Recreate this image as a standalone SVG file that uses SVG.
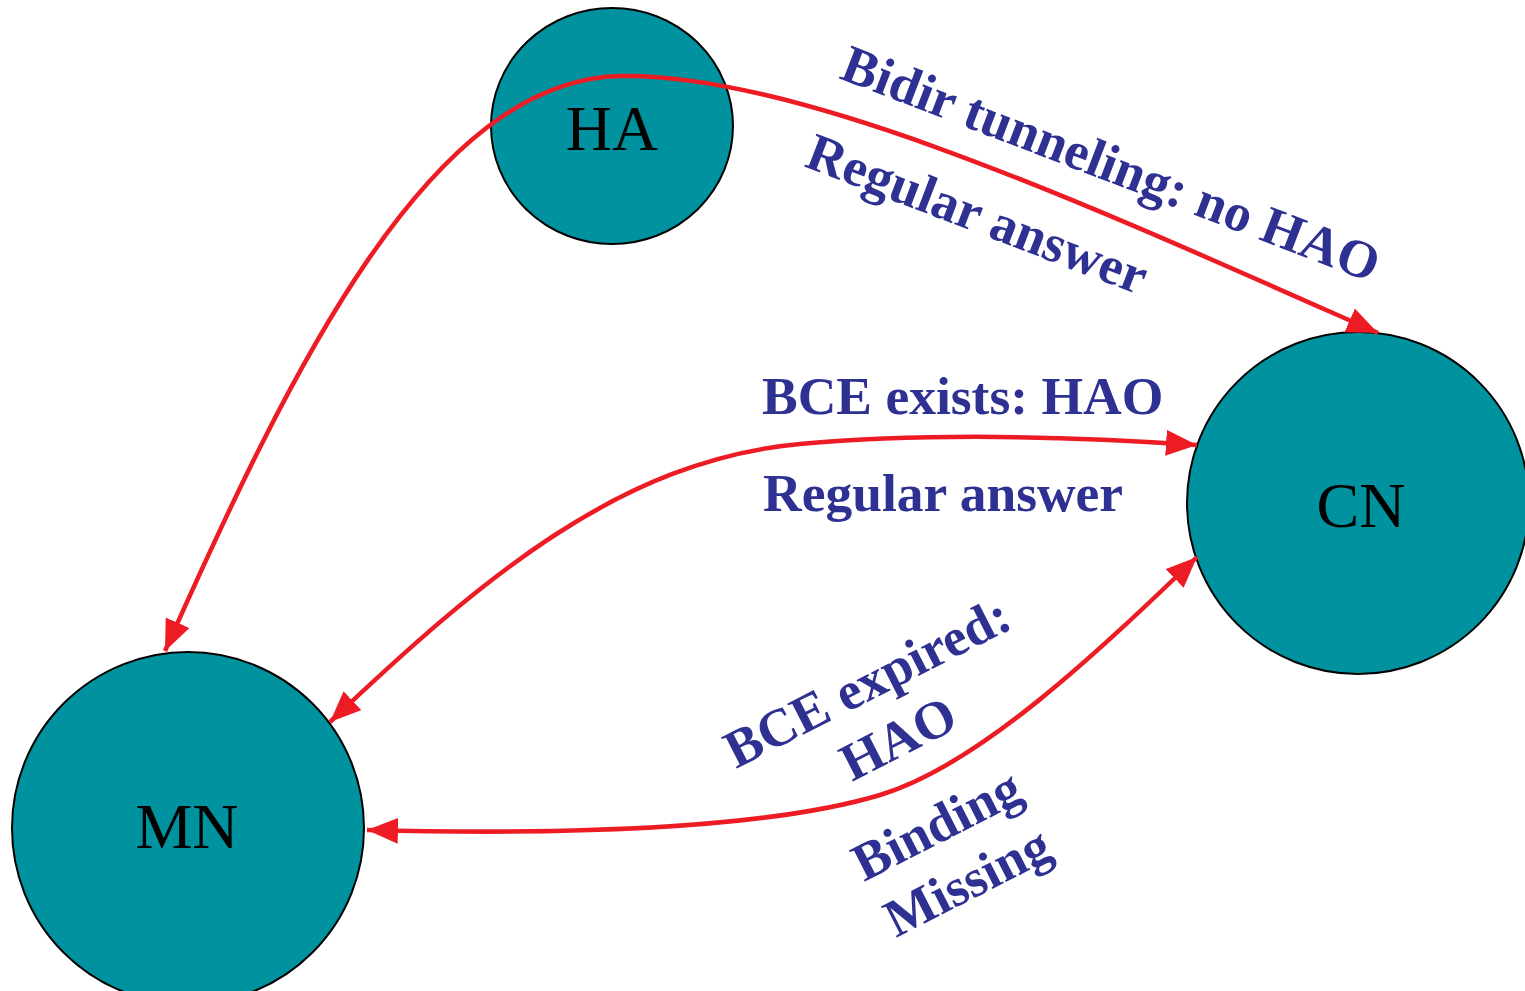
<svg xmlns="http://www.w3.org/2000/svg" width="1525" height="991" viewBox="0 0 1525 991">
<style>
.node{fill:#00929F;stroke:#000;stroke-width:2}
.nlabel{font-family:"Liberation Serif",serif;font-size:64px;fill:#000;text-anchor:middle}
.conn{fill:none;stroke:#ED1C24;stroke-width:4.5;marker-end:url(#ah);marker-start:url(#ah)}
.lbl{font-family:"Liberation Serif",serif;font-weight:bold;font-size:53.5px;fill:#2E3192}
</style>
<defs>
<marker id="ah" markerUnits="userSpaceOnUse" markerWidth="34" markerHeight="28" refX="31" refY="13" orient="auto-start-reverse">
<path d="M0,0 L31,13 L0,26 z" fill="#ED1C24"/>
</marker>
</defs>
<rect width="1525" height="991" fill="#fff"/>
<g id="node-HA"><ellipse class="node" cx="612" cy="126" rx="121" ry="118"/><text class="nlabel" x="612" y="150">HA</text></g>
<g id="node-CN"><circle class="node" cx="1358" cy="503" r="171"/><text class="nlabel" x="1361" y="527">CN</text></g>
<g id="node-MN"><circle class="node" cx="188" cy="828" r="176"/><text class="nlabel" x="187" y="848">MN</text></g>
<g id="connectors">
<path class="conn" d="M165,651 C290,370 430,80 620,76 C800,72 1100,210 1378,333"/>
<path class="conn" d="M330,722 C480,580 620,460 800,444 C935,432 1080,437 1197,445"/>
<path class="conn" d="M367,830 C600,836 780,825 880,795 C980,765 1100,650 1197,557"/>
</g>
<g id="labels">
<text class="lbl" transform="translate(838,78) rotate(21)">Bidir tunneling: no HAO</text>
<text class="lbl" transform="translate(803,166) rotate(21)">Regular answer</text>
<text class="lbl" x="762" y="414">BCE exists: HAO</text>
<text class="lbl" x="763" y="511">Regular answer</text>
<text class="lbl" transform="translate(736,769) rotate(-27)">BCE expired:</text>
<text class="lbl" transform="translate(852,782) rotate(-27)">HAO</text>
<text class="lbl" transform="translate(864,882) rotate(-27)">Binding</text>
<text class="lbl" transform="translate(896,938) rotate(-27)">Missing</text>
</g>
</svg>
